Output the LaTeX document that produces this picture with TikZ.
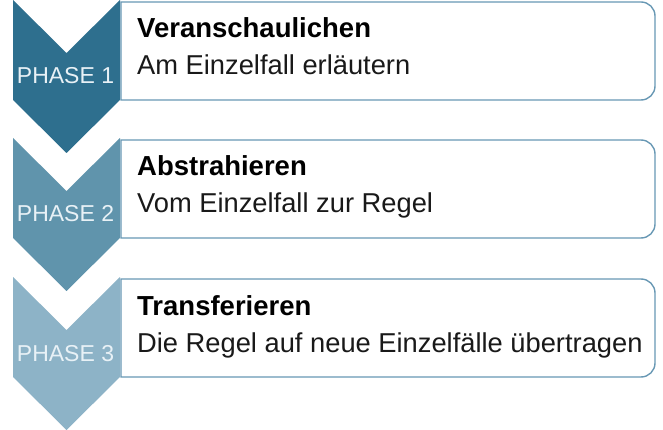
\documentclass[tikz,border=0pt]{standalone}
\usepackage{fontspec}
\setmainfont{Liberation Sans}
\definecolor{cA}{RGB}{46,111,142}
\definecolor{cB}{RGB}{96,148,172}
\definecolor{cC}{RGB}{141,179,199}
\definecolor{bord}{RGB}{104,152,180}
\definecolor{phtxt}{RGB}{232,241,246}
\tikzset{
  box/.style={draw=bord, line width=1.4pt, fill=white},
  title/.style={anchor=base west, inner sep=0pt, font=\bfseries\fontsize{27.5}{30}\selectfont, text=black},
  sub/.style={anchor=base west, inner sep=0pt, font=\fontsize{27.3}{30}\selectfont, text=black!90},
  phase/.style={anchor=base, inner sep=0pt, font=\fontsize{23}{26}\selectfont, text=phtxt},
}
\begin{document}
\begin{tikzpicture}[x=1pt,y=-1pt]
\useasboundingbox (0,0) rectangle (663,430);
\foreach \T/\col/\n/\ttl/\sb in {0/cA/1/Veranschaulichen/Am Einzelfall erläutern,
                           138/cB/2/Abstrahieren/Vom Einzelfall zur Regel,
                           277/cC/3/Transferieren/Die Regel auf neue Einzelfälle übertragen}{
  \draw[box] (121,\T+2) [rounded corners=14pt] -- (655,\T+2) -- (655,\T+100) [sharp corners] -- (121,\T+100) -- cycle;
  \fill[\col] (13,\T) -- (66.5,\T+53) -- (120,\T) -- (120,\T+100) -- (66.5,\T+153) -- (13,\T+100) -- cycle;
  \node[phase] (ph\n) at (65.5,\T+84) {PHASE \n};
  \node[title] (t\n) at (137,\T+38) {\ttl};
  \node[sub] (s\n) at (137,\T+75) {\sb};
}
\end{tikzpicture}
\end{document}
